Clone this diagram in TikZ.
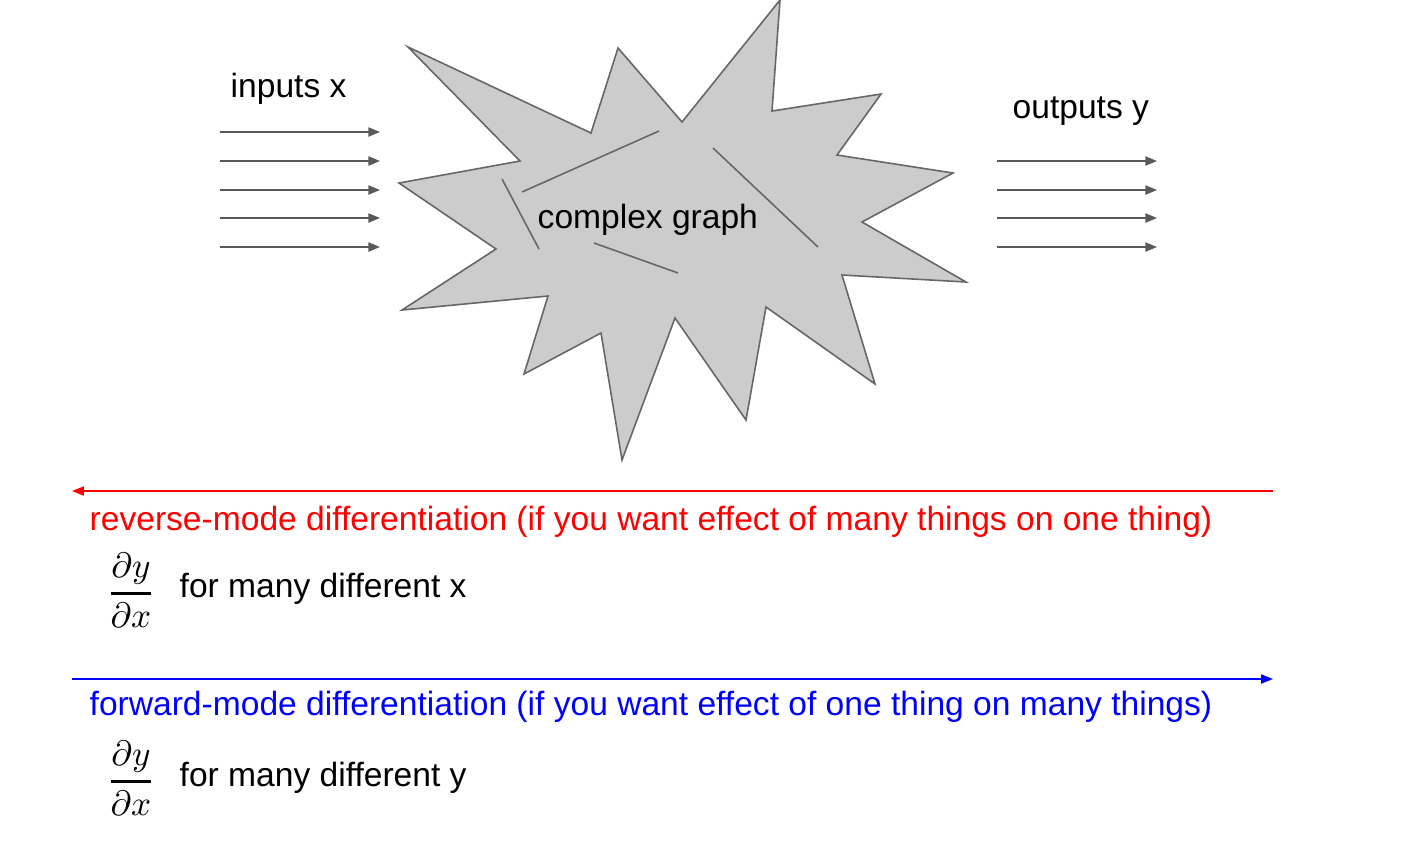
\documentclass[tikz,border=0pt]{standalone}
\usepackage{amsmath}
\usepackage{fontspec}
\setmainfont{Liberation Sans}
\usetikzlibrary{arrows.meta, positioning}
\definecolor{starfill}{HTML}{CCCCCC}
\definecolor{starline}{HTML}{666666}
\definecolor{flowgray}{HTML}{595959}
\definecolor{revred}{HTML}{FF0000}
\definecolor{fwdblue}{HTML}{0000FF}
\newcommand{\pdYX}{$\genfrac{}{}{0.75pt}{0}{\partial y}{\partial x}$}

\tikzset{
	flow/.style={draw=flowgray, line width=0.45pt, -{Triangle[length=3.3pt, width=2.6pt]}},
	mode/.style={line width=0.45pt, -{Triangle[length=3.4pt, width=2.6pt]}},
	caption/.style={inner sep=0pt, anchor=base west, font=\fontsize{9.55}{11}\selectfont},
	frac/.style={inner sep=0pt, font=\fontsize{10.2}{13}\selectfont}
}

\begin{document}
\begin{tikzpicture}[x=0.01cm, y=-0.01cm]
	\useasboundingbox (0,0) rectangle (1406,844);

	% complex graph
	\draw[fill=starfill, draw=starline, line width=0.45pt]
		(408,47) -- (591,133) -- (618,48) -- (682,122) -- (780,0) -- (772,111) --
		(881,94) -- (837,155) -- (953,173) -- (862,222) -- (966,282) -- (842,275) --
		(875,384) -- (766,307) -- (746,420) -- (675,318) -- (622,460) -- (601,333) --
		(524,374) -- (548,296) -- (402,310) -- (496,249) -- (399,183) -- (520,161) -- cycle;
	\foreach \xa/\ya/\xb/\yb in {502/179/539/249, 522/192/659/131, 713/148/818/247, 594/243/678/273}
		\draw[starline, line width=0.45pt] (\xa,\ya) -- (\xb,\yb);
	\node[caption] (graph) at (537,228) {complex graph};

	% inputs and outputs
	\node[caption] (inputs) at (230,97) {inputs x};
	\foreach \y [count=\i] in {132,161,190,218,247} {
		\coordinate (in\i-s) at (220,\y);
		\coordinate (in\i-e) at (380,\y);
		\draw[flow] (in\i-s) -- (in\i-e);
	}
	\node[caption] (outputs) at (1012,118) {outputs y};
	\foreach \y [count=\i] in {161,190,218,247} {
		\coordinate (out\i-s) at (997,\y);
		\coordinate (out\i-e) at (1157,\y);
		\draw[flow] (out\i-s) -- (out\i-e);
	}

	% reverse mode
	\coordinate (rev-r) at (1273,491);
	\coordinate (rev-l) at (72,491);
	\draw[mode, revred] (rev-r) -- (rev-l);
	\node[caption, text=revred] (revtext) at (89,530) {reverse-mode differentiation (if you want effect of many things on one thing)};
	\node[frac] (revfrac) at (131,590) {\pdYX};
	\node[caption] (revmany) at (179,597) {for many different x};

	% forward mode
	\coordinate (fwd-l) at (72,679);
	\coordinate (fwd-r) at (1273,679);
	\draw[mode, fwdblue] (fwd-l) -- (fwd-r);
	\node[caption, text=fwdblue] (fwdtext) at (89,715) {forward-mode differentiation (if you want effect of one thing on many things)};
	\node[frac] (fwdfrac) at (131,778) {\pdYX};
	\node[caption] (fwdmany) at (179,786) {for many different y};
\end{tikzpicture}
\end{document}
